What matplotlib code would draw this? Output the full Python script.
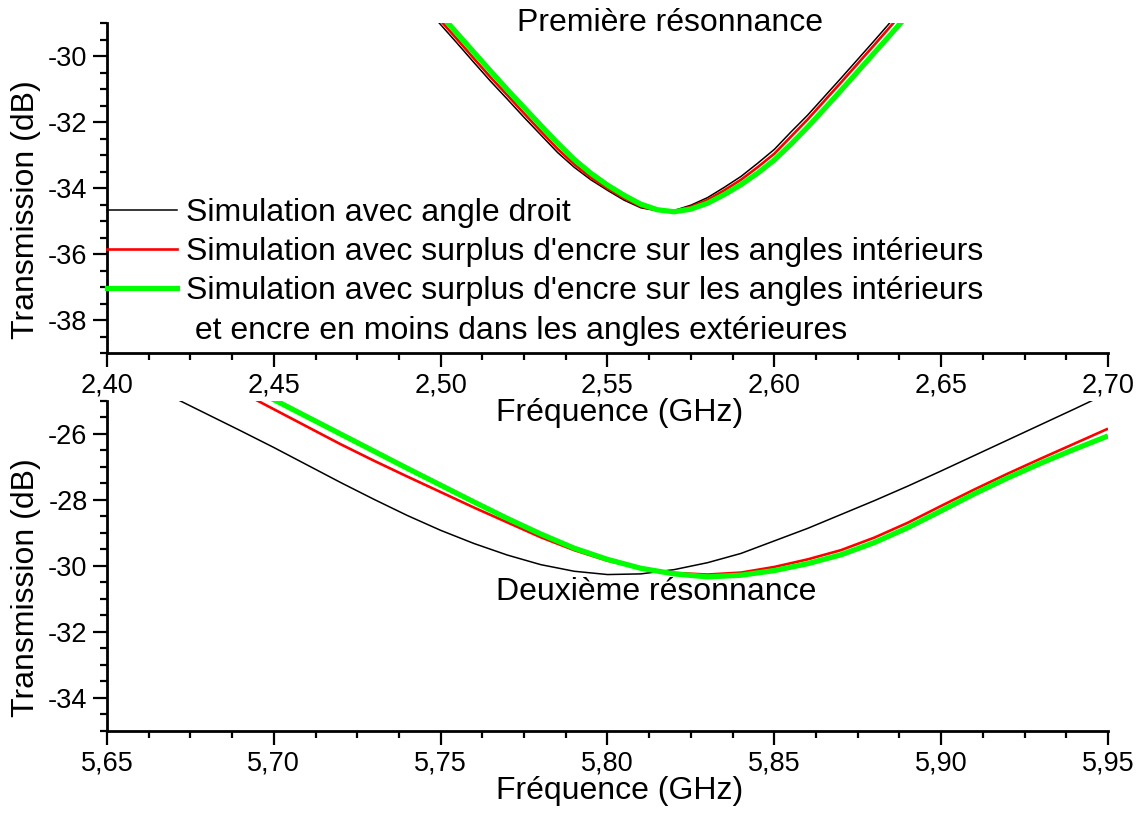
import matplotlib
matplotlib.use('Agg')
import matplotlib.pyplot as plt
from matplotlib.ticker import MultipleLocator, FuncFormatter
from matplotlib.lines import Line2D

plt.rcParams['font.family'] = ['Liberation Sans', 'DejaVu Sans']
plt.rcParams['axes.unicode_minus'] = False

# First resonance (GHz, dB)
f1 = [2.495, 2.500, 2.505, 2.510, 2.515, 2.520, 2.525, 2.530, 2.535, 2.540,
      2.545, 2.550, 2.555, 2.560, 2.565, 2.570, 2.575, 2.580, 2.585, 2.590,
      2.595, 2.600, 2.605, 2.610, 2.615, 2.620, 2.625, 2.630, 2.635, 2.640]
t1_droit = [-28.48, -29.05, -29.62, -30.20, -30.77, -31.31, -31.86, -32.39, -32.92, -33.37,
            -33.75, -34.07, -34.37, -34.60, -34.69, -34.68, -34.52, -34.29, -33.98, -33.65,
            -33.25, -32.83, -32.30, -31.79, -31.23, -30.67, -30.10, -29.53, -28.95, -28.38]
t1_surplus = [-28.36, -28.93, -29.50, -30.08, -30.65, -31.19, -31.74, -32.28, -32.81, -33.28,
              -33.68, -34.01, -34.31, -34.56, -34.68, -34.70, -34.57, -34.36, -34.07, -33.75,
              -33.37, -32.96, -32.44, -31.92, -31.36, -30.80, -30.23, -29.66, -29.08, -28.50]
t1_moins = [-28.18, -28.75, -29.32, -29.89, -30.46, -31.02, -31.56, -32.10, -32.63, -33.13,
            -33.55, -33.91, -34.22, -34.49, -34.66, -34.72, -34.64, -34.46, -34.20, -33.90,
            -33.55, -33.15, -32.67, -32.15, -31.60, -31.04, -30.47, -29.90, -29.33, -28.75]

# Second resonance (GHz, dB)
f2 = [5.66, 5.67, 5.68, 5.69, 5.70, 5.71, 5.72, 5.73, 5.74, 5.75,
      5.76, 5.77, 5.78, 5.79, 5.80, 5.81, 5.82, 5.83, 5.84, 5.85,
      5.86, 5.87, 5.88, 5.89, 5.90, 5.91, 5.92, 5.93, 5.94, 5.95]
t2_droit = [-24.40, -24.90, -25.40, -25.90, -26.41, -26.94, -27.47, -27.98, -28.47, -28.92,
            -29.32, -29.67, -29.96, -30.16, -30.26, -30.24, -30.11, -29.90, -29.62, -29.24,
            -28.86, -28.44, -28.02, -27.58, -27.12, -26.65, -26.18, -25.71, -25.24, -24.76]
t2_surplus = [-23.13, -23.66, -24.19, -24.72, -25.25, -25.78, -26.31, -26.81, -27.29, -27.76,
              -28.23, -28.68, -29.13, -29.52, -29.84, -30.07, -30.21, -30.26, -30.20, -30.03,
              -29.80, -29.52, -29.14, -28.69, -28.18, -27.68, -27.20, -26.74, -26.29, -25.84]
t2_moins = [-22.88, -23.40, -23.92, -24.44, -24.96, -25.48, -26.00, -26.52, -27.04, -27.55,
            -28.06, -28.56, -29.03, -29.46, -29.80, -30.07, -30.24, -30.33, -30.28, -30.14,
            -29.93, -29.66, -29.29, -28.84, -28.33, -27.81, -27.33, -26.88, -26.46, -26.06]

labels = ['Simulation avec angle droit',
          "Simulation avec surplus d'encre sur les angles intérieurs",
          "Simulation avec surplus d'encre sur les angles intérieurs",
          ' et encre en moins dans les angles extérieures']
colors = ['#000000', '#ff0000', '#00ff00']
widths = [1.1, 1.9, 3.8]

FS_LABEL = 23
FS_TICK = 19.5


def comma(v, pos):
    return '{:.2f}'.format(v).replace('.', ',')


def style_axes(ax, xlim, ylim):
    ax.set_xlim(xlim)
    ax.set_ylim(ylim)
    ax.patch.set_visible(False)  # top panel's x label runs into the lower one
    ax.spines['top'].set_visible(False)
    ax.spines['right'].set_visible(False)
    for s in ('left', 'bottom'):
        ax.spines[s].set_linewidth(2)
    ax.xaxis.set_major_locator(MultipleLocator(0.05))
    ax.xaxis.set_minor_locator(MultipleLocator(0.0125))
    ax.yaxis.set_major_locator(MultipleLocator(2))
    ax.yaxis.set_minor_locator(MultipleLocator(0.5))
    ax.xaxis.set_major_formatter(FuncFormatter(comma))
    ax.tick_params(which='major', direction='out', length=10, width=1.6,
                   labelsize=FS_TICK, pad=4)
    ax.tick_params(which='minor', direction='out', length=5, width=1.6)
    ax.set_xlabel('Fréquence (GHz)', fontsize=FS_LABEL)
    ax.set_ylabel('Transmission (dB)', fontsize=FS_LABEL)
    # label anchors: top edge of the x label, right edge of the y label
    ax.xaxis.set_label_coords(0.5125, -0.135)
    ax.yaxis.set_label_coords(-0.066, 0.434)


def draw(ax, f, series):
    for y, c, w in zip(series, colors, widths):
        ax.plot(f, y, color=c, lw=w, solid_capstyle='butt')


fig = plt.figure(figsize=(11.37, 8.13), dpi=100)
ax1 = fig.add_axes([0.0941, 0.5658, 0.8804, 0.4059])
ax2 = fig.add_axes([0.0941, 0.1009, 0.8804, 0.4059])
ax1.set_zorder(2)

draw(ax1, f1, [t1_droit, t1_surplus, t1_moins])
draw(ax2, f2, [t2_droit, t2_surplus, t2_moins])
style_axes(ax1, (2.40, 2.70), (-39, -29))
style_axes(ax2, (5.65, 5.95), (-35, -25))

ax1.text(2.5687, -29.0, 'Première résonnance', fontsize=FS_LABEL,
         ha='center', va='center', clip_on=False)
ax2.text(5.8145, -30.80, 'Deuxième résonnance', fontsize=FS_LABEL,
         ha='center', va='center')

handles = [Line2D([], [], color=c, lw=w) for c, w in zip(colors, widths)]
handles.append(Line2D([], [], color='none'))
ax1.legend(handles, labels, loc='upper left', bbox_to_anchor=(0, 0.470),
           frameon=False, fontsize=FS_LABEL, borderpad=0, borderaxespad=0,
           handlelength=2.2, handletextpad=0.28, labelspacing=0.29)

fig.savefig('out.png', dpi=100)
